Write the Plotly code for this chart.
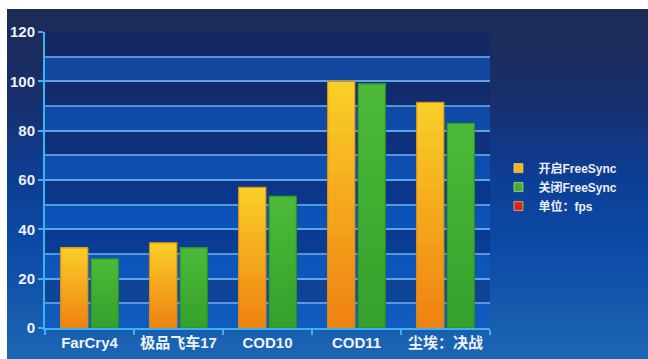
import base64
import plotly.graph_objects as go

# ---------------- data ----------------
categories = ["FarCry4", "极品飞车17", "COD10", "COD11", "尘埃：决战"]
freesync_on = [32.5, 34.5, 57, 100, 91.5]
freesync_off = [28, 32.5, 53.5, 99, 83]
series_names = ["开启FreeSync", "关闭FreeSync", "单位：fps"]
y_ticks = [0, 20, 40, 60, 80, 100, 120]

# ---------------- layout constants ----------------
W, H = 648, 359
ML, MR, MT, MB = 45, 158, 32, 31
PW, PH = W - ML - MR, H - MT - MB


def lerp(c1, c2, t):
    return "rgb(%d,%d,%d)" % tuple(round(a + (b - a) * t) for a, b in zip(c1, c2))


fig = go.Figure()

N = 24
orange_top, orange_bot = (250, 208, 40), (239, 128, 18)
green_top, green_bot = (78, 186, 56), (52, 160, 44)

for vals, top, bot, off in [
    (freesync_on, orange_top, orange_bot, -0.325),
    (freesync_off, green_top, green_bot, 0.018),
]:
    for k in range(N):
        t = 1 - (k + 0.5) / N  # 0 at top, 1 at bottom
        fig.add_trace(go.Bar(
            x=categories,
            y=[v * (N - k) / N for v in vals],
            base=[v * k / N for v in vals],
            width=0.307, offset=off,
            marker=dict(color=lerp(top, bot, t), line=dict(width=0)),
            showlegend=False, hoverinfo="skip",
        ))

# outlines
fig.add_trace(go.Bar(x=categories, y=freesync_on, width=0.307, offset=-0.325,
                     marker=dict(color="rgba(0,0,0,0)",
                                 line=dict(color="rgba(214,140,20,0.9)", width=1.2)),
                     showlegend=False, hoverinfo="skip"))
fig.add_trace(go.Bar(x=categories, y=freesync_off, width=0.307, offset=0.018,
                     marker=dict(color="rgba(0,0,0,0)",
                                 line=dict(color="rgba(40,140,40,0.9)", width=1.2)),
                     showlegend=False, hoverinfo="skip"))

# legend entries
legend_colors = ["#f5b51e", "#3fb232", "#d9261c"]
for name, col in zip(series_names, legend_colors):
    fig.add_trace(go.Scatter(
        x=[None], y=[None], mode="markers", name=name,
        marker=dict(symbol="square", size=9, color=col,
                    line=dict(color="rgba(255,230,150,0.6)", width=1)),
    ))

# background gradient as svg image
svg = f'''<svg xmlns="http://www.w3.org/2000/svg" width="641" height="350" viewBox="0 0 641 350" preserveAspectRatio="none">
<defs><linearGradient id="g" x1="0" y1="0" x2="0" y2="1">
<stop offset="0" stop-color="#1d2a54"/>
<stop offset="0.25" stop-color="#182f6c"/>
<stop offset="0.48" stop-color="#0d3e94"/>
<stop offset="0.68" stop-color="#0b4aa6"/>
<stop offset="1" stop-color="#1d66b4"/>
</linearGradient></defs>
<rect x="0" y="0" width="641" height="350" fill="url(#g)"/>
</svg>'''
src = "data:image/svg+xml;base64," + base64.b64encode(svg.encode()).decode()

img_left_px, img_top_px = 7, 9
fig.add_layout_image(dict(
    source=src, xref="paper", yref="paper",
    x=(img_left_px - ML) / PW, y=(H - MB - img_top_px) / PH,
    sizex=(W - img_left_px) / PW, sizey=(H - img_top_px) / PH,
    xanchor="left", yanchor="top", sizing="stretch", layer="below",
))

# alternating bands
for lo in range(0, 120, 10):
    bright = (lo // 10) % 2 == 0
    fig.add_shape(type="rect", xref="paper", yref="y", x0=0, x1=1,
                  y0=lo, y1=lo + 10, line=dict(width=0),
                  fillcolor="rgba(14,90,200,0.6)" if bright else "rgba(8,36,115,0.35)",
                  layer="below")

font_family = "Liberation Sans, Arial, Noto Sans CJK SC, sans-serif"
axis_col = "#3cb2ee"
grid_col = "rgba(100,165,228,0.85)"

fig.update_layout(
    width=W, height=H,
    margin=dict(l=ML, r=MR, t=MT, b=MB, pad=0, autoexpand=False),
    paper_bgcolor="white",
    plot_bgcolor="rgba(0,0,0,0)",
    barmode="overlay",
    font=dict(family=font_family, color="#eef2fa", size=15, weight="bold"),
    showlegend=True,
    legend=dict(x=1.019, y=0.476, xanchor="left", yanchor="middle",
                bgcolor="rgba(0,0,0,0)", tracegroupgap=0, itemwidth=30,
                font=dict(size=12, color="#eaeef8", family=font_family, weight="bold")),
    xaxis=dict(
        type="category", range=[-0.5, 4.5], automargin=False, tickangle=0,
        showline=True, linecolor=axis_col, linewidth=2,
        ticks="outside", tickson="boundaries", ticklen=5, tickcolor=axis_col, tickwidth=1.5,
        showgrid=False, tickfont=dict(size=15, color="#eef2fa"),
        fixedrange=True,
    ),
    yaxis=dict(
        range=[0, 120], tickvals=y_ticks, automargin=False,
        showline=True, linecolor=axis_col, linewidth=2,
        ticks="outside", ticklen=5, tickcolor=axis_col, tickwidth=1.5,
        showgrid=True, gridcolor=grid_col, gridwidth=1.6,
        minor=dict(dtick=10, tick0=0, showgrid=True, gridcolor=grid_col, gridwidth=1.6, ticks=""),
        zeroline=False, tickfont=dict(size=15, color="#eef2fa"),
        fixedrange=True,
    ),
)

fig.write_html("out.html")
